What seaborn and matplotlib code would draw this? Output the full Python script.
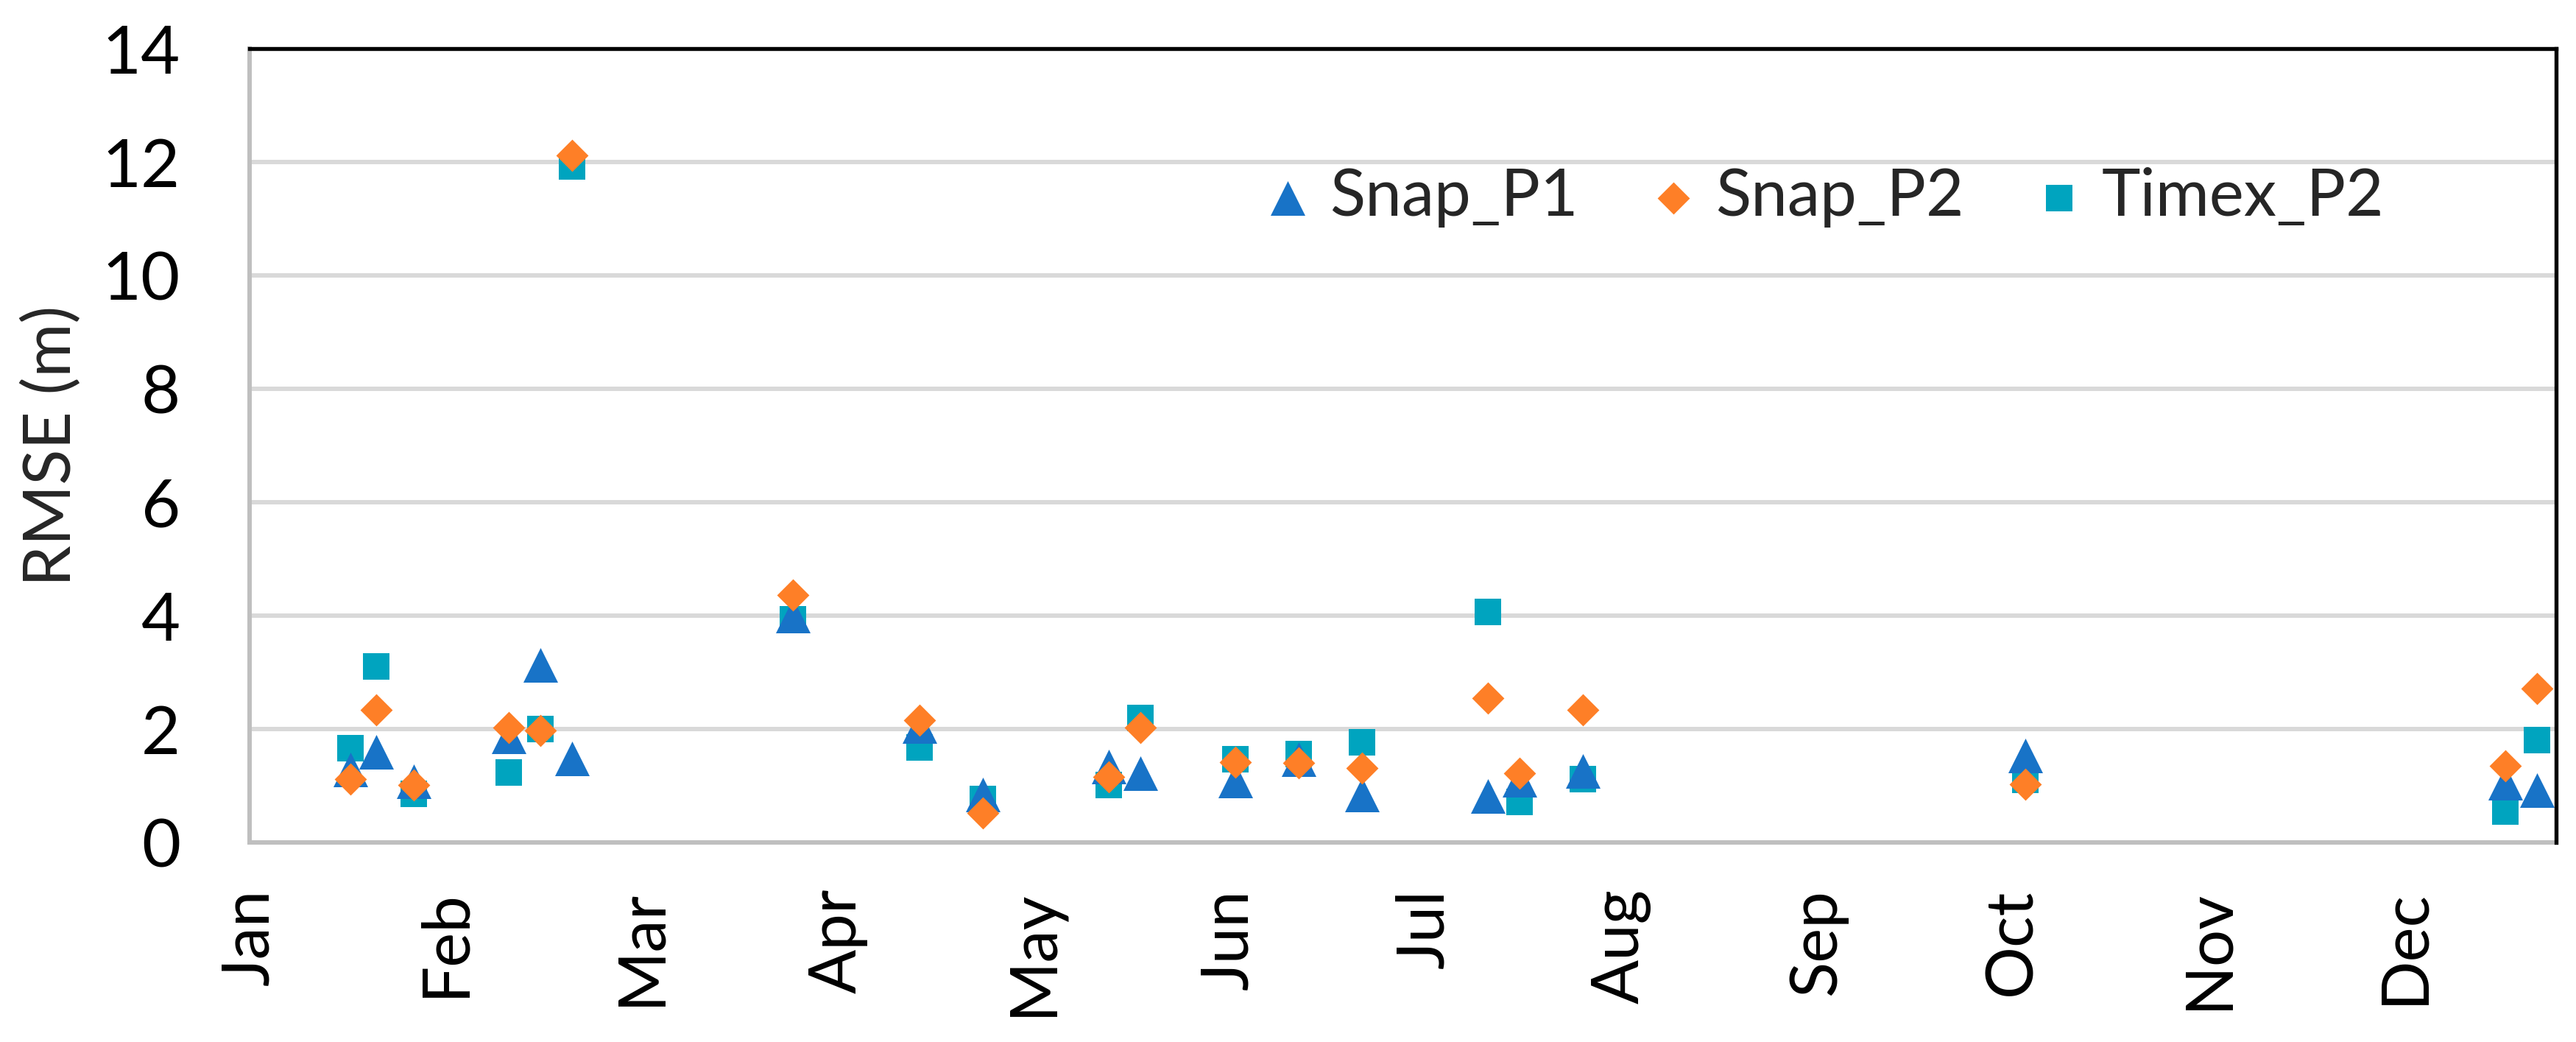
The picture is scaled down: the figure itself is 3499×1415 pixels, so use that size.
import matplotlib
matplotlib.use("Agg")
import matplotlib.pyplot as plt
import seaborn as sns
import pandas as pd
import numpy as np

# ---- data ----
dates = ["2017-01-17", "2017-01-21", "2017-01-27", "2017-02-11", "2017-02-16",
         "2017-02-21", "2017-03-28", "2017-04-17", "2017-04-27", "2017-05-17",
         "2017-05-22", "2017-06-06", "2017-06-16", "2017-06-26", "2017-07-16",
         "2017-07-21", "2017-07-31", "2017-10-09", "2017-12-24", "2017-12-29"]
snap_p1 = [1.28, 1.60, 1.08, 1.87, 3.13, 1.48, 4.00, 2.05, 0.84, 1.34,
           1.22, 1.09, 1.47, 0.84, 0.82, 1.11, 1.26, 1.53, 1.05, 0.92]
snap_p2 = [1.12, 2.34, 1.01, 2.02, 1.98, 12.12, 4.36, 2.15, 0.52, 1.16,
           2.02, 1.42, 1.40, 1.31, 2.54, 1.22, 2.34, 1.03, 1.35, 2.72]
timex_p2 = [1.66, 3.11, 0.86, 1.23, 2.00, 11.92, 3.93, 1.67, 0.76, 1.01,
            2.20, 1.47, 1.56, 1.76, 4.06, 0.71, 1.12, 1.10, 0.55, 1.81]
month_labels = ["Jan", "Feb", "Mar", "Apr", "May", "Jun",
                "Jul", "Aug", "Sep", "Oct", "Nov", "Dec"]
y_ticks = [0, 2, 4, 6, 8, 10, 12, 14]

df = pd.DataFrame({"date": pd.to_datetime(dates),
                   "Snap_P1": snap_p1, "Snap_P2": snap_p2, "Timex_P2": timex_p2})

# ---- style ----
sns.set_theme(style="white")
plt.rcParams["font.family"] = ["Lato", "DejaVu Sans"]

W, H, DPI = 3499, 1415, 100
fig = plt.figure(figsize=(W / DPI, H / DPI), dpi=DPI)
ax_w = 3472 - 339
ax = fig.add_axes([339 / W, 1 - 1144 / H, ax_w / W, (1144 - 66) / H])

c_p1 = "#1873C7"
c_p2 = "#FE7F27"
c_tx = "#00A4BF"

px = 72 / DPI  # points per pixel
s_tri = (47 * px) ** 2
s_dia = (31 * px) ** 2
s_sq = (36 * px) ** 2
FS = 64

sns.scatterplot(data=df, x="date", y="Timex_P2", marker="s", s=s_sq, color=c_tx,
                linewidth=0, ax=ax, label="Timex_P2", zorder=3)
sns.scatterplot(data=df, x="date", y="Snap_P1", marker="^", s=s_tri, color=c_p1,
                linewidth=0, ax=ax, label="Snap_P1", zorder=4)
sns.scatterplot(data=df, x="date", y="Snap_P2", marker="D", s=s_dia, color=c_p2,
                linewidth=0, ax=ax, label="Snap_P2", zorder=5)

start = pd.Timestamp("2017-01-01")
ax.set_xlim(start, start + pd.Timedelta(days=365))
ax.set_ylim(0, 14)
tick_dates = [start + pd.Timedelta(days=31 * i) for i in range(len(month_labels))]
ax.set_xticks(tick_dates)
ax.set_xticklabels(month_labels, rotation=90)
ax.set_yticks(y_ticks)
ax.set_yticklabels([str(v) for v in y_ticks])

ax.grid(axis="y", color="#D9D9D9", linewidth=6 * px, zorder=0)
ax.set_axisbelow(True)
ax.tick_params(axis="x", length=0, pad=63 * px, labelsize=FS, colors="black")
ax.tick_params(axis="y", length=0, pad=94 * px, labelsize=FS + 2, colors="black")

ax.set_xlabel("")
ax.set_ylabel("RMSE (m)", fontsize=FS)
ax.yaxis.set_label_coords((112 - 339) / ax_w, 0.5)

for side in ["left", "bottom"]:
    ax.spines[side].set_color("#BFBFBF")
    ax.spines[side].set_linewidth(6 * px)
for side in ["top", "right"]:
    ax.spines[side].set_color("black")
    ax.spines[side].set_linewidth(5.4 * px)
    ax.spines[side].set_zorder(6)

handles, labels = ax.get_legend_handles_labels()
order = [labels.index(n) for n in ["Snap_P1", "Snap_P2", "Timex_P2"]]
ax.legend([handles[i] for i in order], [labels[i] for i in order],
          ncol=3, loc="center", bbox_to_anchor=(0.682, 0.813), frameon=False,
          fontsize=FS, handlelength=0.8, handletextpad=0.25, columnspacing=1.05,
          borderpad=0, borderaxespad=0)

fig.savefig("out.png", dpi=DPI)
